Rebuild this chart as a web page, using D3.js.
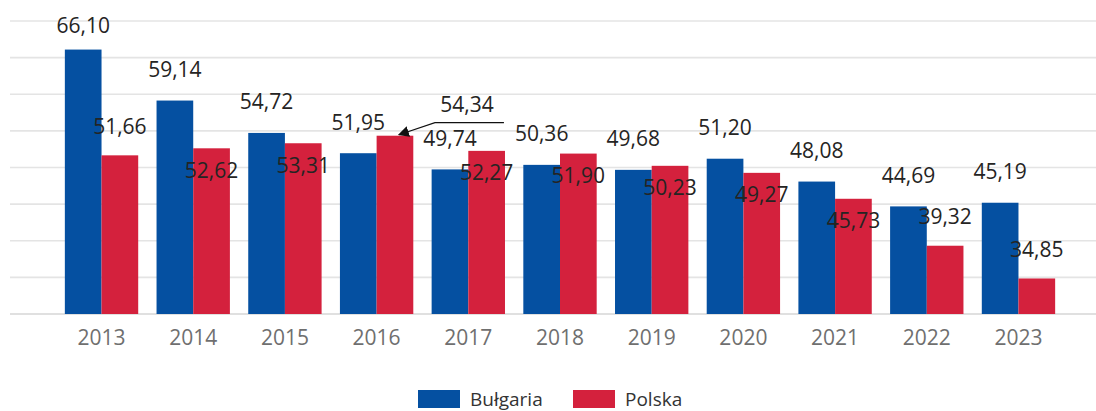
<!DOCTYPE html>
<html>
<head>
<meta charset="utf-8">
<script src="https://cdn.jsdelivr.net/npm/d3@7"></script>
<style>
  body { margin: 0; background: #fff; }
  text { font-family: "Open Sans", "Noto Sans", sans-serif; }
</style>
</head>
<body>
<svg width="1096" height="411"></svg>

<script>

var years = ["2013", "2014", "2015", "2016", "2017", "2018", "2019", "2020", "2021", "2022", "2023"];
var bulgaria = [66.10, 59.14, 54.72, 51.95, 49.74, 50.36, 49.68, 51.20, 48.08, 44.69, 45.19];
var polska = [51.66, 52.62, 53.31, 54.34, 52.27, 51.90, 50.23, 49.27, 45.73, 39.32, 34.85];
var seriesNames = ["Bułgaria", "Polska"];
var yTicks = [30, 35, 40, 45, 50, 55, 60, 65, 70];
// where each Polska value label sits (the chart tool moved them around to avoid overlaps)
var polskaLabelPlace = ["above", "inside", "inside", "callout", "inside", "inside", "inside", "inside", "inside", "above", "above"];

var colors = ["#0550a1", "#d4213d"];

var svg = d3.select("svg"),
    width = +svg.attr("width");

var x = d3.scaleBand()
    .domain(years)
    .range([19, 1101])
    .paddingInner(0.2)
    .paddingOuter(0.5);

var x1 = d3.scaleBand()
    .domain(seriesNames)
    .range([0, x.bandwidth()]);

var y = d3.scaleLinear()
    .domain([30, 70])
    .range([314, 21]);

// gridlines
svg.append("g")
  .selectAll("line")
  .data(yTicks)
  .enter().append("line")
    .attr("x1", 10)
    .attr("x2", width)
    .attr("y1", function(d) { return y(d); })
    .attr("y2", function(d) { return y(d); })
    .attr("stroke", function(d) { return d === 30 ? "#d6d6d6" : "#e4e4e4"; })
    .attr("stroke-width", 1.6);

var rows = years.map(function(yr, i) {
  return {year: yr, values: [bulgaria[i], polska[i]], i: i};
});

var groups = svg.append("g")
  .selectAll("g")
  .data(rows)
  .enter().append("g")
    .attr("transform", function(d) { return "translate(" + x(d.year) + ",0)"; });

groups.selectAll("rect")
  .data(function(d) { return d.values.map(function(v, k) { return {key: seriesNames[k], value: v, k: k}; }); })
  .enter().append("rect")
    .attr("x", function(d) { return x1(d.key); })
    .attr("width", x1.bandwidth())
    .attr("y", function(d) { return y(d.value); })
    .attr("height", function(d) { return y(30) - y(d.value); })
    .attr("fill", function(d) { return colors[d.k]; });

function fmt(v) { return v.toFixed(2).replace(".", ","); }

var labels = svg.append("g")
    .attr("font-size", 21)
    .attr("fill", "#252423")
    .attr("text-anchor", "middle");

// Bułgaria labels, above the bar, kept inside the top of the plot
labels.selectAll(".lb")
  .data(bulgaria)
  .enter().append("text")
    .attr("class", "lb")
    .attr("x", function(d, i) { return x(years[i]) + x1("Bułgaria") + x1.bandwidth() / 2; })
    .attr("y", function(d) { return Math.max(y(d) - 31, 25); })
    .attr("dy", "0.36em")
    .text(fmt);

// Polska labels
labels.selectAll(".lp")
  .data(polska)
  .enter().append("text")
    .attr("class", "lp")
    .attr("x", function(d, i) {
      var cx = x(years[i]) + x1("Polska") + x1.bandwidth() / 2;
      return polskaLabelPlace[i] === "callout" ? cx + 72 : cx;
    })
    .attr("y", function(d, i) {
      var p = polskaLabelPlace[i];
      if (p === "inside") return y(d) + 22;
      if (p === "callout") return y(d) - 31;
      return y(d) - 29;
    })
    .attr("dy", "0.36em")
    .text(fmt);

// callout leader line with arrow
svg.append("defs").append("marker")
    .attr("id", "arrow")
    .attr("viewBox", "0 0 10 10")
    .attr("refX", 9)
    .attr("refY", 5)
    .attr("markerWidth", 11)
    .attr("markerHeight", 11)
    .attr("markerUnits", "userSpaceOnUse")
    .attr("orient", "auto")
  .append("path")
    .attr("d", "M0,0L10,5L0,10z")
    .attr("fill", "#111");

polskaLabelPlace.forEach(function(p, i) {
  if (p !== "callout") return;
  var cx = x(years[i]) + x1("Polska") + x1.bandwidth() / 2,
      top = y(polska[i]);
  svg.append("path")
      .attr("d", "M" + (cx + 109) + "," + (top - 13) +
                 "H" + (cx + 40) +
                 "L" + (cx + 4) + "," + (top - 1))
      .attr("fill", "none")
      .attr("stroke", "#111")
      .attr("stroke-width", 1.2)
      .attr("marker-end", "url(#arrow)");
});

// x axis
var xAxis = svg.append("g")
    .attr("transform", "translate(0," + y(30) + ")")
    .call(d3.axisBottom(x).tickSize(0).tickPadding(16));
xAxis.select(".domain").remove();
xAxis.selectAll("text")
    .attr("font-family", "\"Open Sans\", sans-serif")
    .attr("font-size", 21)
    .attr("fill", "#6f6f6f");

// legend
var legend = svg.append("g")
    .attr("font-size", 19)
    .attr("fill", "#333");

var legendX = [418, 573];
seriesNames.forEach(function(name, k) {
  legend.append("rect")
      .attr("x", legendX[k])
      .attr("y", 390)
      .attr("width", 42)
      .attr("height", 18)
      .attr("fill", colors[k]);
  legend.append("text")
      .attr("x", legendX[k] + 52)
      .attr("y", 399)
      .attr("dy", "0.36em")
      .text(name);
});

</script>
</body>
</html>
